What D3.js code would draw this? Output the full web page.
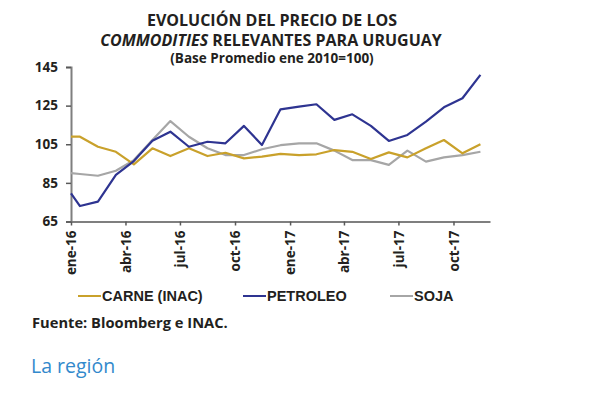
<!DOCTYPE html>
<html>
<head>
<meta charset="utf-8">
<script src="https://cdn.jsdelivr.net/npm/d3@7"></script>
<style>
  html, body { margin: 0; padding: 0; background: #ffffff; }
  svg { display: block; }
</style>
</head>
<body>
<svg id="chart" width="600" height="393"></svg>
<script>
// ---- data ----
const dates = ["2016-01-01","2016-01-16","2016-02-15","2016-03-16","2016-04-15","2016-05-16","2016-06-15",
  "2016-07-16","2016-08-16","2016-09-15","2016-10-16","2016-11-15","2016-12-16",
  "2017-01-16","2017-02-14","2017-03-16","2017-04-15","2017-05-16","2017-06-15",
  "2017-07-16","2017-08-16","2017-09-15","2017-10-16","2017-11-15"];
const carne = [108.9,108.9,103.7,101.1,94.6,102.9,98.9,102.9,98.9,100.6,97.7,98.6,
  100.0,99.4,99.8,102.0,101.1,97.4,100.8,98.2,102.9,107.2,100.3,105.0];
const petroleo = [79.6,73.0,75.3,89.1,96.3,106.8,111.5,103.7,106.3,105.5,114.5,104.6,
  123.1,124.5,125.7,117.6,120.5,114.5,106.7,109.8,116.7,124.1,128.8,140.9];
const soja = [90.0,89.6,88.7,91.3,96.8,107.2,117.0,108.9,102.9,99.4,99.4,102.4,
  104.5,105.5,105.5,101.7,96.8,96.8,94.3,101.7,96.0,98.2,99.4,101.1];
const tickDates = ["2016-01-01","2016-04-01","2016-07-01","2016-10-01","2017-01-01","2017-04-01","2017-07-01","2017-10-01"];
const tickLabels = ["ene-16","abr-16","jul-16","oct-16","ene-17","abr-17","jul-17","oct-17"];
const yTicks = [65,85,105,125,145];
const seriesNames = ["CARNE (INAC)","PETROLEO","SOJA"];
const seriesColors = ["#C9A12B","#2E3491","#A6A6A6"];

// ---- chart ----
const svg = d3.select("#chart");
const parse = d3.timeParse("%Y-%m-%d");
const x = d3.scaleTime()
  .domain([parse("2016-01-01"), parse("2017-12-01")])
  .range([71, 490]);
const y = d3.scaleLinear().domain([65,145]).range([221.5, 67]);

const txt = "#231F20";
const fontMain = "'Open Sans', Lato, sans-serif";

// title
const title = svg.append("g").attr("font-family", fontMain).attr("font-weight", 700)
  .attr("fill", txt).attr("text-anchor", "middle");
title.append("text").attr("x", 272).attr("y", 26).attr("font-size", 16)
  .text("EVOLUCIÓN DEL PRECIO DE LOS");
const t2 = title.append("text").attr("x", 271).attr("y", 46).attr("font-size", 16);
t2.append("tspan").attr("font-style", "italic").text("COMMODITIES");
t2.append("tspan").text(" RELEVANTES PARA URUGUAY");
title.append("text").attr("x", 272).attr("y", 63).attr("font-size", 13.5)
  .text("(Base Promedio ene 2010=100)");

// y axis
const yAxis = svg.append("g").attr("transform", "translate(71,0)")
  .call(d3.axisLeft(y).tickValues(yTicks).tickSize(5).tickPadding(8));
yAxis.select(".domain").attr("stroke", "#7F7F7F").attr("stroke-width", 2);
yAxis.selectAll(".tick line").attr("stroke", "#595959").attr("stroke-width", 1.5);
yAxis.selectAll(".tick text").attr("font-family", fontMain).attr("font-weight", 700)
  .attr("font-size", 13.5).attr("fill", txt);

// x axis
const xAxis = svg.append("g").attr("transform", "translate(0,221.5)")
  .call(d3.axisBottom(x).tickValues(tickDates.map(parse))
    .tickFormat((d, i) => tickLabels[i]).tickSize(4).tickSizeOuter(0));
xAxis.select(".domain").attr("stroke", "#7F7F7F").attr("stroke-width", 2);
xAxis.selectAll(".tick line").attr("stroke", "#595959").attr("stroke-width", 1.5);
xAxis.selectAll(".tick text")
  .attr("font-family", fontMain).attr("font-weight", 700).attr("font-size", 13.5).attr("fill", txt)
  .attr("text-anchor", "end").attr("dy", "0.35em")
  .attr("transform", "translate(0,9) rotate(-90)")
  .attr("x", 0).attr("y", 0);

// lines
const seriesData = [carne, petroleo, soja];
const line = d3.line().x((d, i) => x(parse(dates[i]))).y(d => y(d));
const drawOrder = [2, 0, 1];
drawOrder.forEach(k => {
  svg.append("path").datum(seriesData[k])
    .attr("fill", "none").attr("stroke", seriesColors[k]).attr("stroke-width", 2.2)
    .attr("stroke-linejoin", "round").attr("d", line);
});

// legend
const legX = [78, 243, 390];
const leg = svg.append("g").attr("font-family", "'Liberation Sans', Arial, sans-serif")
  .attr("font-weight", 700).attr("font-size", 14.5).attr("fill", txt);
seriesNames.forEach((n, i) => {
  leg.append("line").attr("x1", legX[i]).attr("x2", legX[i] + 23)
    .attr("y1", 296).attr("y2", 296).attr("stroke", seriesColors[i]).attr("stroke-width", 2);
  leg.append("text").attr("x", legX[i] + 24).attr("y", 301).text(n);
});

// source
svg.append("text").attr("x", 32).attr("y", 328).attr("font-family", fontMain)
  .attr("font-weight", 700).attr("font-size", 14.7).attr("fill", txt)
  .text("Fuente: Bloomberg e INAC.");

svg.append("text").attr("x", 31).attr("y", 373).attr("font-family", fontMain)
  .attr("font-size", 19.5).attr("fill", "#3289CC")
  .text("La región");
</script>
</body>
</html>
